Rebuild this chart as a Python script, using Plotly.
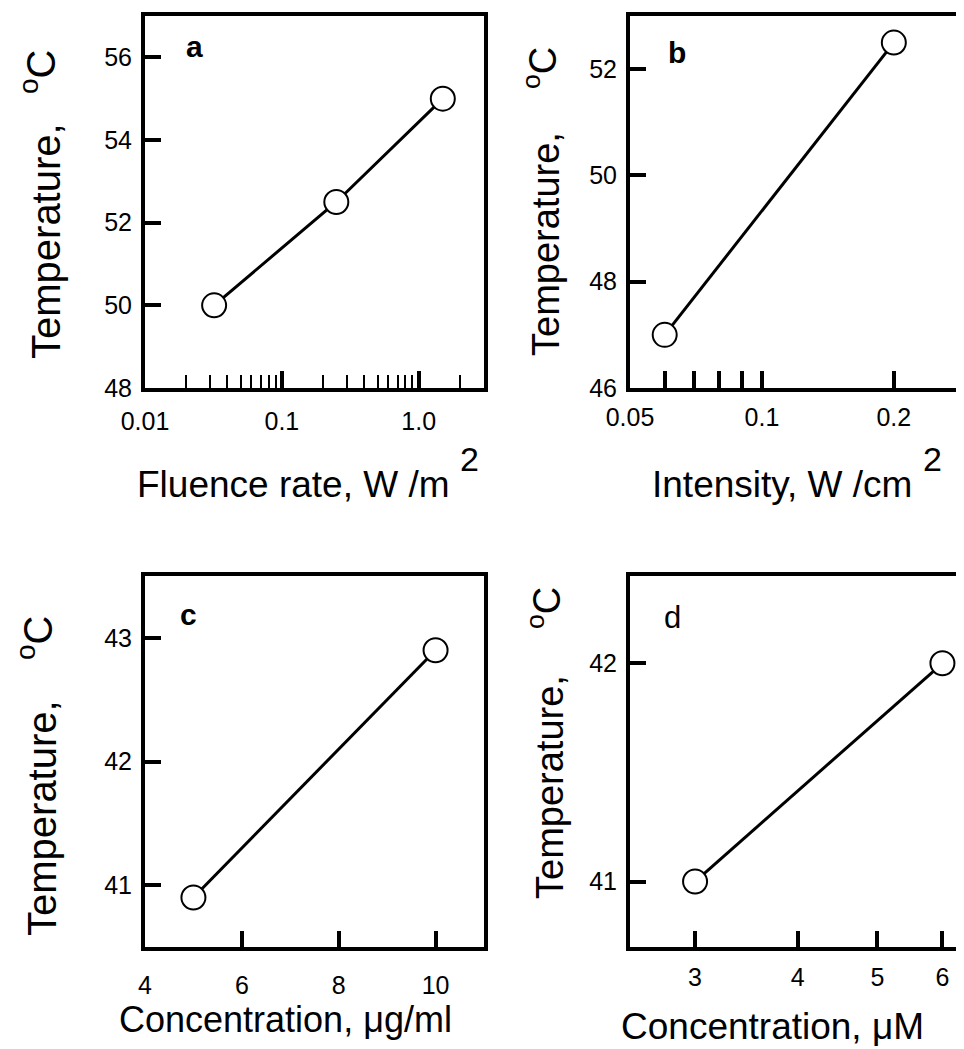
import math
import plotly.graph_objects as go

# ---------------- data ----------------
a_x = [0.032, 0.25, 1.5]
a_y = [50.0, 52.5, 55.0]
b_x = [0.06, 0.2]
b_y = [47.0, 52.5]
c_x = [5, 10]
c_y = [40.9, 42.9]
d_x = [3, 6]
d_y = [41.0, 42.0]

a_xticks = [0.01, 0.1, 1.0]
a_xticktext = ["0.01", "0.1", "1.0"]
a_xminor = [0.02, 0.03, 0.04, 0.05, 0.06, 0.07, 0.08, 0.09,
            0.2, 0.3, 0.4, 0.5, 0.6, 0.7, 0.8, 0.9, 2.0]
a_yticks = [48, 50, 52, 54, 56]
b_xticks = [0.05, 0.1, 0.2]
b_xticktext = ["0.05", "0.1", "0.2"]
b_xminor = [0.06, 0.07, 0.08, 0.09]
b_yticks = [46, 48, 50, 52]
c_xticks = [4, 6, 8, 10]
c_yticks = [41, 42, 43]
d_xticks = [3, 4, 5, 6]
d_yticks = [41, 42]

W, H = 964, 1049
OFF = 8  # page body margin offset


def px(x):
    return (x - OFF) / W


def py(y):
    return 1 - (y - OFF) / H


TICKFONT = dict(family="Liberation Sans, Arial, sans-serif", size=25, color="black")
REG = "Liberation Sans, Arial, sans-serif"

fig = go.Figure()


def add_series(xs, ys, xa, ya):
    fig.add_trace(go.Scatter(
        x=xs, y=ys, xaxis=xa, yaxis=ya, mode="lines+markers",
        line=dict(color="black", width=3),
        marker=dict(symbol="circle", size=24, color="white",
                    line=dict(color="black", width=2)),
        showlegend=False, hoverinfo="x+y"))


add_series(a_x, a_y, "x", "y")
add_series(b_x, b_y, "x2", "y2")
add_series(c_x, c_y, "x3", "y3")
add_series(d_x, d_y, "x4", "y4")

common = dict(showgrid=False, zeroline=False, showline=True, linecolor="black",
              linewidth=4, ticks="inside", tickcolor="black", tickfont=TICKFONT)

top_dom = [py(388), py(16)]
bot_dom = [py(947), py(576)]
left_dom = [px(145), px(484)]
right_dom = [px(630), px(971)]

fig.update_layout(
    width=W, height=H, autosize=False,
    margin=dict(l=0, r=0, t=0, b=0, autoexpand=False),
    paper_bgcolor="white", plot_bgcolor="white",
    xaxis=dict(domain=left_dom, anchor="y", type="log",
               range=[math.log10(0.01), math.log10(3.0)],
               tickmode="array", tickvals=a_xticks, ticktext=a_xticktext,
               ticklen=17, tickwidth=3.5, mirror=True, ticklabelstandoff=8,
               minor=dict(tickvals=a_xminor, ticks="inside", ticklen=13,
                          tickwidth=2, tickcolor="black", showgrid=False),
               **common),
    yaxis=dict(domain=top_dom, anchor="x", range=[48, 57],
               tickmode="array", tickvals=a_yticks,
               ticklen=16, tickwidth=3.5, mirror=True, ticklabelstandoff=4,
               **common),
    xaxis2=dict(domain=right_dom, anchor="y2", type="log",
                range=[math.log10(0.05), math.log10(0.3)],
                tickmode="array", tickvals=b_xticks, ticktext=b_xticktext,
                ticklen=17, tickwidth=3.5, mirror=True, ticklabelstandoff=4,
                minor=dict(tickvals=b_xminor, ticks="inside", ticklen=17,
                           tickwidth=3.5, tickcolor="black", showgrid=False),
                **common),
    yaxis2=dict(domain=top_dom, anchor="x2", range=[46, 53],
                tickmode="array", tickvals=b_yticks,
                ticklen=16, tickwidth=3.5, mirror=False, ticklabelstandoff=4,
                **common),
    xaxis3=dict(domain=left_dom, anchor="y3", range=[4, 11],
                tickmode="array", tickvals=c_xticks,
                ticklen=16, tickwidth=3.5, mirror=True, ticklabelstandoff=13,
                **common),
    yaxis3=dict(domain=bot_dom, anchor="x3", range=[40.5, 43.5],
                tickmode="array", tickvals=c_yticks,
                ticklen=16, tickwidth=3.5, mirror=True, ticklabelstandoff=4,
                **common),
    xaxis4=dict(domain=right_dom, anchor="y4", type="log",
                range=[math.log10(2.5), math.log10(6.5)],
                tickmode="array", tickvals=d_xticks,
                ticklen=16, tickwidth=3.5, mirror=True, ticklabelstandoff=5,
                **common),
    yaxis4=dict(domain=bot_dom, anchor="x4", range=[40.7, 42.4],
                tickmode="array", tickvals=d_yticks,
                ticklen=16, tickwidth=3.5, mirror=False, ticklabelstandoff=4,
                **common),
)


def ann(text, x, y, size, family=REG, angle=0, bold=False):
    if bold:
        text = "<b>" + text + "</b>"
    fig.add_annotation(text=text, x=px(x), y=py(y), xref="paper", yref="paper",
                       showarrow=False, textangle=angle, xanchor="center",
                       yanchor="middle",
                       font=dict(family=family, size=size, color="black"))


# panel letters
ann("a", 194, 47, 30, bold=True)
ann("b", 677, 52, 30, bold=True)
ann("c", 188, 614, 30, bold=True)
ann("d", 672, 617, 31)

# y-axis titles
ann("Temperature,", 46, 241, 40, angle=-90)
ann("<sup>o</sup>C", 38, 72, 40, angle=-90)
ann("Temperature,", 546, 244, 38, angle=-90)
ann("<sup>o</sup>C", 540, 68, 38, angle=-90)
ann("Temperature,", 42, 818, 40, angle=-90)
ann("<sup>o</sup>C", 35, 638, 40, angle=-90)
ann("Temperature,", 550, 787, 38, angle=-90)
ann("<sup>o</sup>C", 544, 608, 38, angle=-90)

# x-axis titles
ann("Fluence rate, W /m", 293, 484, 37)
ann("2", 469, 459, 34)
ann("Intensity, W /cm", 782, 484, 37)
ann("2", 932, 459, 34)
ann("Concentration, μg/ml", 285, 1019, 36)
ann("Concentration, μM", 772, 1026, 37)

fig.write_html("out.html")
